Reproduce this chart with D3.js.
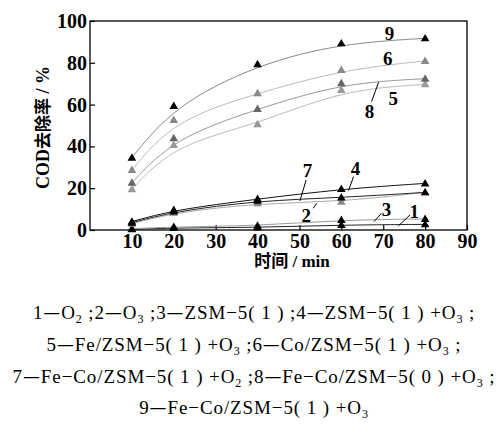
<!DOCTYPE html>
<html>
<head>
<meta charset="utf-8">
<script src="https://cdn.jsdelivr.net/npm/d3@7.9.0/dist/d3.min.js"></script>
<style>
  body { margin: 0; background: #fff; }
</style>
</head>
<body>
<svg width="498" height="443"></svg>
<script>
// time points (min)
const times = [10, 20, 40, 60, 80];
const xTicks = [10, 20, 30, 40, 50, 60, 70, 80, 90];
const yTicks = [0, 20, 40, 60, 80, 100];

// COD removal (%) per curve
const s1 = [0.3, 1.0, 1.2, 2.4, 2.7];
const s2 = [3.0, 8.3, 12.8, 13.5, 18.0];
const s3 = [0.6, 1.5, 2.0, 4.8, 5.3];
const s4 = [4.0, 9.6, 14.8, 19.6, 22.3];
const s5 = [19.5, 40.7, 50.6, 67.0, 69.7];
const s6 = [28.7, 52.6, 65.4, 76.6, 80.9];
const s7 = [3.5, 8.8, 14.0, 15.5, 18.0];
const s8 = [22.6, 43.9, 57.9, 70.2, 72.4];
const s9 = [34.6, 59.3, 79.3, 89.3, 91.7];

const series = [
  { id: 1, values: s1, line: '#222', mark: '#000' },
  { id: 3, values: s3, line: '#999', mark: '#000' },
  { id: 2, values: s2, line: '#aaa', mark: '#888' },
  { id: 7, values: s7, line: '#222', mark: '#000' },
  { id: 4, values: s4, line: '#111', mark: '#000' },
  { id: 5, values: s5, line: '#bbb', mark: '#999' },
  { id: 8, values: s8, line: '#999', mark: '#666' },
  { id: 6, values: s6, line: '#bbb', mark: '#888' },
  { id: 9, values: s9, line: '#888', mark: '#000' }
];

// caption pieces, odd entries are subscripts
const captions = [
  ['1—O', '2', ' ;2—O', '3', ' ;3—ZSM−5( 1 ) ;4—ZSM−5( 1 ) +O', '3', ' ;'],
  ['5—Fe/ZSM−5( 1 ) +O', '3', ' ;6—Co/ZSM−5( 1 ) +O', '3', ' ;'],
  ['7—Fe−Co/ZSM−5( 1 ) +O', '2', ' ;8—Fe−Co/ZSM−5( 0 ) +O', '3', ' ;'],
  ['9—Fe−Co/ZSM−5( 1 ) +O', '3']
];

const SERIF = '"Liberation Serif", "Times New Roman", "DejaVu Serif", serif';
const CJK = '"Noto Sans CJK SC", sans-serif';

const svg = d3.select('svg');
const margin = { left: 90, top: 21, right: 31, bottom: 213 };
const w = 498 - margin.left - margin.right;
const h = 443 - margin.top - margin.bottom;

const x = d3.scaleLinear().domain([0, 90]).range([0, w]);
const y = d3.scaleLinear().domain([0, 100]).range([h, 0]);

const g = svg.append('g').attr('transform', `translate(${margin.left},${margin.top})`);

// frame
g.append('rect').attr('width', w).attr('height', h)
  .attr('fill', 'none').attr('stroke', '#000').attr('stroke-width', 1.3);

function styleAxis(a) {
  a.select('.domain').remove();
  a.selectAll('line').attr('stroke', '#000').attr('stroke-width', 1.2);
  a.selectAll('text')
    .style('font-family', SERIF)
    .style('font-weight', 'bold')
    .style('font-size', '20px')
    .attr('fill', '#000');
}

g.append('g')
  .attr('transform', `translate(0,${h})`)
  .call(d3.axisBottom(x).tickValues(xTicks).tickSizeInner(-5).tickSizeOuter(0).tickPadding(4))
  .call(styleAxis);

g.append('g')
  .call(d3.axisLeft(y).tickValues(yTicks).tickSizeInner(-5).tickSizeOuter(0).tickPadding(3))
  .call(styleAxis);

// fitted curves
const line = d3.line()
  .x((d, i) => x(times[i]))
  .y(d => y(d))
  .curve(d3.curveBasis);

series.forEach(s => {
  g.append('path').datum(s.values)
    .attr('d', line)
    .attr('fill', 'none')
    .attr('stroke', s.line)
    .attr('stroke-width', 1);
});

const tri = d3.symbol().type(d3.symbolTriangle).size(32);
series.forEach(s => {
  g.selectAll(null).data(s.values).enter().append('path')
    .attr('d', tri)
    .attr('transform', (d, i) => `translate(${x(times[i])},${y(d) + 0.5})`)
    .attr('fill', s.mark);
});

// curve labels with leader lines (data coordinates)
const labels = [
  { t: '9', tx: 71.5, ty: 94.1, l: null },
  { t: '6', tx: 71.1, ty: 82.1, l: null },
  { t: '5', tx: 72.4, ty: 63.0, l: null },
  { t: '8', tx: 66.7, ty: 56.9, l: [[68.9, 70.7], [67.2, 61.4]] },
  { t: '7', tx: 51.9, ty: 28.7, l: [[51.6, 23.9], [50.1, 13.9]] },
  { t: '4', tx: 63.4, ty: 29.5, l: [[62.9, 25.5], [61.7, 18.8]] },
  { t: '2', tx: 51.6, ty: 7.2, l: [[53.3, 10.4], [54.1, 12.8]] },
  { t: '3', tx: 70.8, ty: 9.9, l: [[69.6, 8.0], [67.8, 4.0]] },
  { t: '1', tx: 77.4, ty: 9.1, l: [[76.4, 7.2], [73.6, 1.9]] }
];
labels.forEach(d => {
  g.append('text')
    .attr('x', x(d.tx)).attr('y', y(d.ty))
    .attr('text-anchor', 'middle').attr('dy', '0.35em')
    .style('font-family', SERIF).style('font-weight', 'bold').style('font-size', '19px')
    .text(d.t);
  if (d.l) {
    g.append('line')
      .attr('x1', x(d.l[0][0])).attr('y1', y(d.l[0][1]))
      .attr('x2', x(d.l[1][0])).attr('y2', y(d.l[1][1]))
      .attr('stroke', '#000').attr('stroke-width', 1);
  }
});

// axis titles
const yt = svg.append('text')
  .attr('transform', `translate(43,${margin.top + h / 2 + 2}) rotate(-90)`)
  .attr('text-anchor', 'middle').attr('dy', '0.35em')
  .style('font-family', SERIF).style('font-weight', 'bold').style('font-size', '18px');
yt.append('tspan').text('COD');
yt.append('tspan').style('font-family', CJK).style('font-size', '17px').text('去除率');
yt.append('tspan').text(' / %');

const xt = svg.append('text')
  .attr('x', 292).attr('y', 267)
  .attr('text-anchor', 'middle')
  .style('font-family', SERIF).style('font-weight', 'bold').style('font-size', '17px');
xt.append('tspan').style('font-family', CJK).text('时间');
xt.append('tspan').text(' / min');

// legend caption; em dashes set in the CJK font (full width)
const capY = [319, 351, 383, 414];
captions.forEach((parts, k) => {
  const t = svg.append('text')
    .attr('x', 254).attr('y', capY[k]).attr('text-anchor', 'middle')
    .style('font-family', SERIF).style('font-size', '19px')
    .style('letter-spacing', '0.9px')
    .attr('xml:space', 'preserve');
  let shift = 0;
  parts.forEach((p, i) => {
    if (i % 2 === 1) {
      t.append('tspan').attr('dy', 4).style('font-size', '12px').text(p);
      shift = -4;
    } else {
      p.split(/(—)/).forEach(seg => {
        if (!seg) return;
        const sp = t.append('tspan').text(seg);
        if (shift) { sp.attr('dy', shift); shift = 0; }
        if (seg === '—') sp.style('font-family', CJK);
      });
    }
  });
});
</script>
</body>
</html>
